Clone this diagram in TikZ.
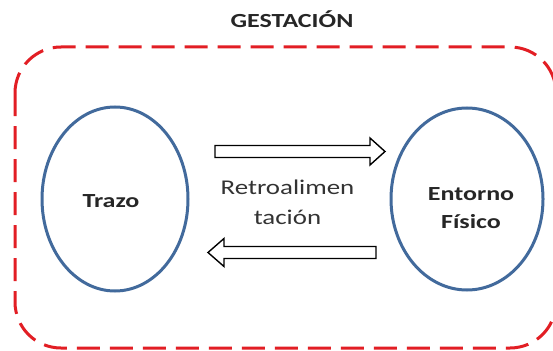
\documentclass[tikz,border=0pt]{standalone}
\usepackage{fontspec}
\setmainfont{Carlito}
\usetikzlibrary{calc}
\definecolor{boxred}{RGB}{226,30,36}
\definecolor{ellblue}{RGB}{66,106,156}
\tikzset{
  frame/.style={draw=boxred, line width=3pt, dash pattern=on 23pt off 10pt, rounded corners=46pt},
  oval/.style={draw=ellblue, line width=3pt},
  bigarrow/.style={draw=black, fill=white, line width=1.4pt, line join=miter},
  lbl/.style={font=\fontsize{20}{28}\selectfont\bfseries, align=center, text=black!85, xscale=1.3, inner sep=0pt},
  midlbl/.style={font=\fontsize{21}{30}\selectfont, align=center, text=black!80, xscale=1.28, inner sep=0pt}
}
\begin{document}
\begin{tikzpicture}[x=1pt,y=-1pt]
\useasboundingbox (0,0) rectangle (553,350);
\fill[white] (0,0) rectangle (553,350);
\begin{scope}
\clip (0,0) rectangle (553,350);
\draw[frame] (15,47) rectangle (556,348);
\end{scope}
\node[lbl, anchor=base] (title) at (292,28) {GESTACIÓN};
\draw[oval] (115,199) ellipse [x radius=73, y radius=92];
\node[lbl, anchor=base] (trazo) at (111,207) {Trazo};
\draw[oval] (467,199) ellipse [x radius=76, y radius=91];
\node[lbl] (entorno) at (471,208) {Entorno\\Físico};
\node[midlbl] (retro) at (287.5,202) {Retroalimen\\tación};
% upper arrow
\coordinate (u0) at (215,151.5);
\coordinate (u1) at (385,151.5);
\draw[bigarrow] (u0) ++(0,-6) -- ($(u1)+(-15,-6)$) -- ($(u1)+(-15,-13.5)$) -- (u1) -- ($(u1)+(-15,13.5)$) -- ($(u1)+(-15,6)$) -- ($(u0)+(0,6)$) -- cycle;
% lower arrow
\coordinate (l0) at (376,252.5);
\coordinate (l1) at (208,252.5);
\draw[bigarrow] (l0) ++(0,-6) -- ($(l1)+(16,-6)$) -- ($(l1)+(16,-14)$) -- (l1) -- ($(l1)+(16,14)$) -- ($(l1)+(16,6)$) -- ($(l0)+(0,6)$) -- cycle;
\end{tikzpicture}
\end{document}
